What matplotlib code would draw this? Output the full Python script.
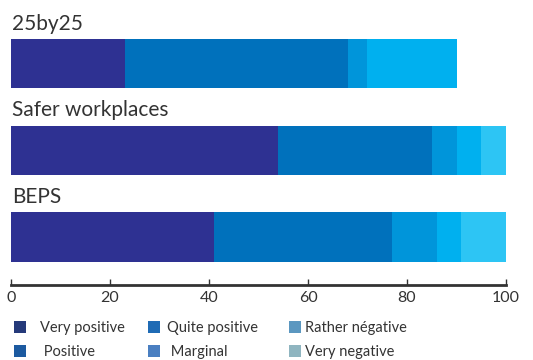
import matplotlib
matplotlib.use("Agg")
import matplotlib.pyplot as plt
from matplotlib.patches import Patch

plt.rcParams["font.family"] = ["Lato", "DejaVu Sans"]

# Survey responses per initiative (percent of respondents)
initiatives = ["25by25", "Safer workplaces", "BEPS"]
very_positive = [23, 54, 41]
positive = [45, 31, 36]
quite_positive = [4, 5, 9]
marginal = [18, 5, 5]
rather_negative = [0, 5, 9]
very_negative = [0, 0, 0]
xticks = [0, 20, 40, 60, 80, 100]

series = [very_positive, positive, quite_positive, marginal,
          rather_negative, very_negative]
bar_colors = ["#2E3192", "#0071BC", "#0095DA", "#00B0EF", "#2DC5F4", "#8FB5C0"]
legend_colors = ["#253A7A", "#1C5AA0", "#1F6BB5", "#4A7FC1", "#5B97C0", "#8FB5C0"]
legend_labels = ["Very positive", " Positive", "Quite positive", " Marginal",
                 "Rather négative", "Very negative"]

text_color = "#333333"
W, H = 533, 360

fig = plt.figure(figsize=(W / 100, H / 100), dpi=100)
ax = fig.add_axes([11 / W, 1 - 285 / H, 495 / W, 285 / H])

ypos = list(range(len(initiatives)))
left = [0] * len(initiatives)
for vals, color in zip(series, bar_colors):
    ax.barh(ypos, vals, left=left, height=0.57, color=color, linewidth=0)
    left = [l + v for l, v in zip(left, vals)]

for y, name in zip(ypos, initiatives):
    ax.text(0.2, y - 0.39, name, fontsize=15, color=text_color,
            ha="left", va="baseline")

ax.set_xlim(0, 100)
ax.set_ylim(2.553, -0.732)
ax.set_yticks([])
ax.set_xticks(xticks)
ax.set_xticklabels([str(t) for t in xticks])
for side in ["top", "right", "left"]:
    ax.spines[side].set_visible(False)
ax.spines["bottom"].set_linewidth(2)
ax.spines["bottom"].set_color("#333333")
ax.tick_params(axis="x", direction="in", length=4, width=1, colors="#333333",
               labelsize=11.5, labelcolor=text_color, pad=4)

# Legend laid out as three two-row columns
col_x = [14, 148, 289]
text_pad = [0.95, 0.45, 0.3]
for i, (x0, tp) in enumerate(zip(col_x, text_pad)):
    idx = [2 * i, 2 * i + 1]
    handles = [Patch(facecolor=legend_colors[k], edgecolor="none") for k in idx]
    labels = [legend_labels[k] for k in idx]
    fig.legend(handles, labels, loc="upper left",
               bbox_to_anchor=(x0 / W, 1 - 321 / H), frameon=False,
               fontsize=10.5, handlelength=0.82, handleheight=0.82,
               handletextpad=tp, labelspacing=0.68,
               labelcolor=text_color, borderaxespad=0, borderpad=0)

fig.savefig("out.png", dpi=100)
